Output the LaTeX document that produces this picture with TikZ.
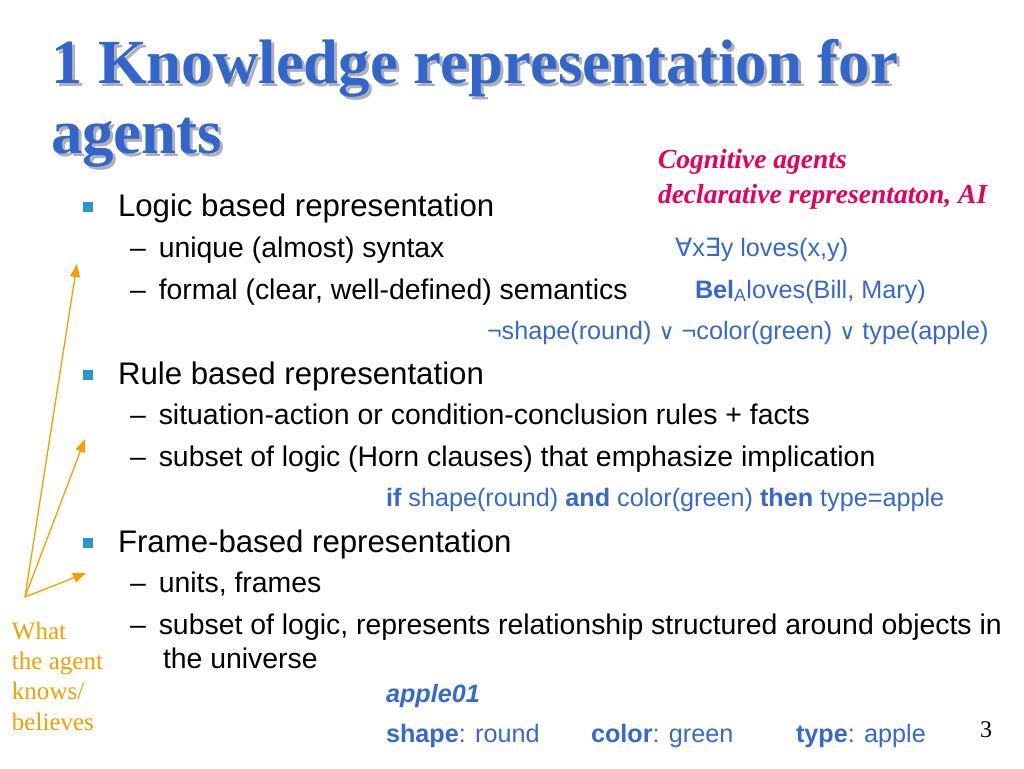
\documentclass[tikz,border=0pt]{standalone}
\usepackage{fontspec}
\setmainfont{Liberation Sans}
\newfontfamily\seriffont{Liberation Serif}
\newfontfamily\symfont{DejaVu Sans}
\usetikzlibrary{arrows.meta}
\definecolor{titleblue}{RGB}{51,102,204}
\definecolor{txtblue}{RGB}{55,105,205}
\definecolor{bulletblue}{RGB}{40,150,205}
\definecolor{pinkred}{RGB}{230,0,90}
\definecolor{orangec}{RGB}{245,160,0}
\definecolor{shadowgray}{RGB}{175,175,185}
\tikzset{
  base/.style={anchor=base west, inner sep=0pt, outer sep=0pt},
  titletext/.style={base, font=\seriffont\bfseries\fontsize{62.8}{70}\selectfont, text=titleblue},
  lvlone/.style={base, font=\fontsize{31.2}{37}\selectfont, text=black},
  lvltwo/.style={base, font=\fontsize{28.4}{34}\selectfont, text=black},
  formula/.style={base, font=\fontsize{25.2}{30}\selectfont, text=txtblue},
  cogn/.style={base, font=\seriffont\bfseries\itshape\fontsize{27.5}{32}\selectfont, text=pinkred},
  knows/.style={base, font=\seriffont\fontsize{25}{30}\selectfont, text=orangec},
  bulletsq/.style={fill=bulletblue, minimum size=10pt, inner sep=0pt, draw=none},
  pointer/.style={draw=orangec, line width=1.3pt, -{Triangle[length=13pt,width=10pt]}},
}
\newcommand{\sy}[1]{{\symfont #1}}
\newcommand{\smor}{{\symfont\fontsize{22}{26}\selectfont ∨}}
\newcommand{\shadowed}[1]{\makebox[0pt][l]{\hspace{3pt}\raisebox{-3pt}{\textcolor{shadowgray}{#1}}}#1}
\begin{document}
\begin{tikzpicture}[x=1pt,y=-1pt]
\useasboundingbox[fill=white] (0,0) rectangle (1024,768);

% title with shadow
\node[titletext] (t1) at (51,83) {\shadowed{1 Knowledge representation for}};
\node[titletext] (t2) at (51,153) {\shadowed{agents}};

% cognitive agents
\node[cogn] (cog1) at (658,168) {Cognitive agents};
\node[cogn] (cog2) at (658,203) {declarative representaton, AI};

% Logic based
\node[bulletsq] (b1) at (88,207) {};
\node[lvlone] (l1) at (118,216) {Logic based representation};
\node[lvltwo] (l1a) at (130,257) {–\hspace{13pt}unique (almost) syntax};
\node[lvltwo] (l1b) at (130,299) {–\hspace{13pt}formal (clear, well-defined) semantics};
\node[formula] (f1) at (675,256) {\sy{∀}x\sy{∃}y loves(x,y)};
\node[formula] (f2) at (695,298) {\textbf{Bel}\textsubscript{A}loves(Bill, Mary)};
\node[formula] (f3) at (487,339) {¬shape(round) \smor{} ¬color(green) \smor{} type(apple)};

% Rule based
\node[bulletsq] (b2) at (88,375) {};
\node[lvlone] (l2) at (118,384) {Rule based representation};
\node[lvltwo] (l2a) at (130,424) {–\hspace{13pt}situation-action or condition-conclusion rules + facts};
\node[lvltwo] (l2b) at (130,466) {–\hspace{13pt}subset of logic (Horn clauses) that emphasize implication};
\node[formula] (f4) at (386,506) {\textbf{if} shape(round) \textbf{and} color(green) \textbf{then} type=apple};

% Frame based
\node[bulletsq] (b3) at (88,543) {};
\node[lvlone] (l3) at (118,552) {Frame-based representation};
\node[lvltwo] (l3a) at (130,592) {–\hspace{13pt}units, frames};
\node[lvltwo] (l3b) at (130,634) {–\hspace{13pt}subset of logic, represents relationship structured around objects in};
\node[lvltwo] (l3c) at (163,668) {the universe};
\node[formula] (f5) at (386,702) {\bfseries\itshape apple01};
\node[formula] (f6) at (386,742) {\textbf{shape}: round};
\node[formula] (f7) at (591,742) {\textbf{color}: green};
\node[formula] (f8) at (796,742) {\textbf{type}: apple};

% page number
\node[base, font=\seriffont\fontsize{24}{28}\selectfont] (pg) at (980,737) {3};

% what the agent knows
\node[knows] (k1) at (12,639) {What};
\node[knows] (k2) at (12,669) {the agent};
\node[knows] (k3) at (12,699) {knows/};
\node[knows] (k4) at (12,730) {believes};

\coordinate (src) at (25,597);
\coordinate (tip1) at (77,264);
\coordinate (tip2) at (85,439);
\coordinate (tip3) at (86,573);
\draw[pointer] (src) -- (tip1);
\draw[pointer] (src) -- (tip2);
\draw[pointer] (src) -- (tip3);
\end{tikzpicture}
\end{document}
